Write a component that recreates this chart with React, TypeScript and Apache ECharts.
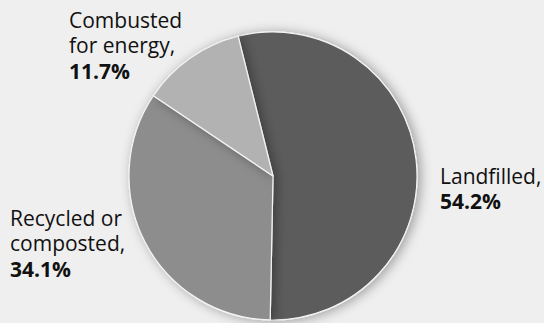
import React, { useEffect, useRef } from "react";
import * as echarts from "echarts";

const categories = ["Landfilled,", "Recycled or\ncomposted,", "Combusted\nfor energy,"];
const shares = [54.2, 34.1, 11.7];
const shareLabels = ["54.2%", "34.1%", "11.7%"];
const sliceColors = ["#5b5b5b", "#8d8d8d", "#b2b2b2"];
const labelBoxes = [
  { x: 440, y: 163 },
  { x: 10, y: 205 },
  { x: 69, y: 7 },
];

export default function App() {
  const ref = useRef<HTMLDivElement>(null);
  useEffect(() => {
    if (!ref.current) return;
    const chart = echarts.init(ref.current, undefined, { renderer: "svg" });
    chart.setOption({
      animation: false,
      backgroundColor: "#efefef",
      series: [
        {
          type: "pie",
          center: [273, 176],
          radius: [0, 144],
          startAngle: 104,
          clockwise: true,
          data: categories.map((c, i) => ({
            name: c,
            value: shares[i],
            itemStyle: { color: sliceColors[i] },
          })),
          itemStyle: {
            borderColor: "#f4f4f4",
            borderWidth: 1.2,
            shadowBlur: 12,
            shadowColor: "rgba(0,0,0,0.35)",
            shadowOffsetX: 3,
            shadowOffsetY: 1,
          },
          label: {
            show: true,
            position: "outside",
            overflow: "none",
            edgeDistance: 0,
            formatter: (p: any) =>
              p.name
                .split("\n")
                .map((s: string) => `{n|${s}}`)
                .join("\n") + `\n{b|${shareLabels[p.dataIndex]}}`,
            rich: {
              n: {
                fontFamily: "Open Sans",
                fontSize: 21,
                lineHeight: 25.5,
                color: "#111111",
              },
              b: {
                fontFamily: "Open Sans",
                fontSize: 21,
                fontWeight: "bold",
                lineHeight: 25.5,
                color: "#111111",
              },
            },
          },
          labelLine: { show: false },
          labelLayout: (params: any) => ({
            x: labelBoxes[params.dataIndex].x,
            y: labelBoxes[params.dataIndex].y,
            align: "left",
            verticalAlign: "top",
            width: 200,
          }),
          emphasis: { disabled: true },
        },
      ],
    });
    return () => chart.dispose();
  }, []);
  return (
    <div
      ref={ref}
      style={{ position: "fixed", left: 0, top: 0, width: 544, height: 323 }}
    />
  );
}
